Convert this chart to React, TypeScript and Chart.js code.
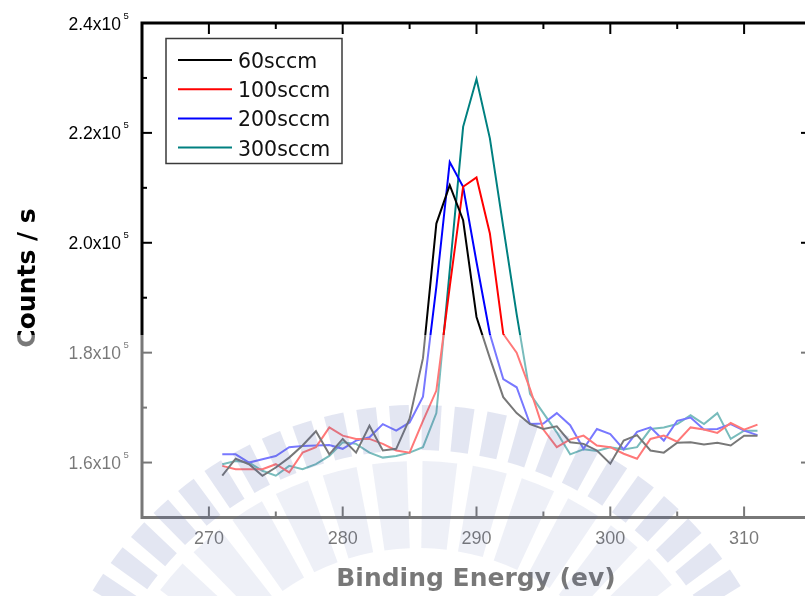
import React, { useEffect, useRef } from "react";
import { Chart, registerables } from "chart.js";

Chart.register(...registerables);

// Binding energy grid (eV)
const energies = [
  271, 272, 273, 274, 275, 276, 277, 278, 279, 280,
  281, 282, 283, 284, 285, 286, 287, 288, 289, 290,
  291, 292, 293, 294, 295, 296, 297, 298, 299, 300,
  301, 302, 303, 304, 305, 306, 307, 308, 309, 310, 311,
];

// Counts per second for each gas flow
const flow60 = [
  157600, 160700, 159700, 157600, 159100, 160900, 163100, 165700, 161500, 164300,
  161800, 166700, 162200, 162500, 168000, 179000, 203500, 210500, 204100, 186500,
  179000, 171900, 169000, 167000, 166100, 166600, 163700, 163400, 162200, 159800,
  164000, 165000, 162200, 161800, 163600, 163700, 163300, 163600, 163100, 164900, 164900,
];
const flow100 = [
  159400, 158800, 158800, 158800, 159700, 158200, 161800, 162800, 166400, 164900,
  164300, 164300, 163400, 162200, 161800, 167600, 173100, 192000, 210200, 211900,
  201700, 183400, 180000, 173400, 166000, 162800, 164200, 164900, 163100, 162800,
  161600, 160700, 164300, 164900, 163800, 166400, 166000, 165400, 167200, 166000, 166900,
];
const flow200 = [
  161500, 161500, 160000, 160600, 161200, 162800, 163000, 163100, 163200, 162500,
  164000, 164600, 167000, 165800, 167300, 172000, 192000, 214700, 210200, 196500,
  183400, 175200, 173700, 167000, 167100, 169000, 166800, 162500, 166100, 165200,
  162400, 165600, 166400, 164000, 167600, 168200, 166000, 166100, 167000, 165800, 165000,
];
const flow300 = [
  159700, 160300, 160000, 158500, 157600, 159400, 158800, 159700, 161200, 163700,
  163400, 161800, 160900, 161200, 161800, 162800, 169000, 195000, 221100, 229800,
  219000, 202900, 187000, 172500, 169000, 165500, 161500, 162400, 162100, 162800,
  162400, 162800, 166100, 166400, 167000, 168600, 167000, 169000, 164300, 165800, 165800,
];

const seriesLabels = ["60sccm", "100sccm", "200sccm", "300sccm"];
const seriesColors = ["#000000", "#ff0000", "#0000ff", "#008080"];

// Axis ranges and ticks
const xRange = [265, 315];
const yRange = [150000, 240000];
const xMajorTicks = [270, 280, 290, 300, 310];
const xMinorTicks = [275, 285, 295, 305];
const xTickLabels = ["270", "280", "290", "300", "310"];
const yMajorTicks = [160000, 180000, 200000, 220000, 240000];
const yMinorTicks = [170000, 190000, 210000, 230000];
const yTickMantissas = ["1.6", "1.8", "2.0", "2.2", "2.4"];
const yTickExponent = "5";

const xTitle = "Binding Energy (ev)";
const yTitle = "Counts / s";

const CANVAS_W = 830;
const CANVAS_H = 596;

// Origin-style boxed frame with inward ticks on all four sides
const framePlugin = {
  id: "frame",
  afterDatasetsDraw(chart: any) {
    const { ctx, chartArea: a, scales } = chart;
    const xs = scales.x;
    const ys = scales.y;
    ctx.save();
    ctx.strokeStyle = "#000";
    ctx.lineCap = "butt";

    const seg = (x1: number, y1: number, x2: number, y2: number) => {
      ctx.beginPath();
      ctx.moveTo(x1, y1);
      ctx.lineTo(x2, y2);
      ctx.stroke();
    };

    ctx.lineWidth = 2;
    xMajorTicks.forEach((v) => {
      const px = xs.getPixelForValue(v);
      seg(px, a.bottom, px, a.bottom - 11);
      seg(px, a.top, px, a.top + 11);
    });
    xMinorTicks.forEach((v) => {
      const px = xs.getPixelForValue(v);
      seg(px, a.bottom, px, a.bottom - 6);
      seg(px, a.top, px, a.top + 6);
    });
    yMajorTicks.forEach((v) => {
      const py = ys.getPixelForValue(v);
      seg(a.left, py, a.left + 10, py);
      seg(a.right, py, a.right - 10, py);
    });
    yMinorTicks.forEach((v) => {
      const py = ys.getPixelForValue(v);
      seg(a.left, py, a.left + 5, py);
      seg(a.right, py, a.right - 5, py);
    });

    ctx.lineWidth = 3;
    ctx.strokeRect(a.left, a.top, a.right - a.left, a.bottom - a.top);

    // tick labels
    ctx.fillStyle = "#000";
    ctx.font = '18px "Liberation Sans", Arial, sans-serif';
    ctx.textAlign = "center";
    ctx.textBaseline = "alphabetic";
    xMajorTicks.forEach((v, i) => {
      ctx.fillText(xTickLabels[i], xs.getPixelForValue(v), a.bottom + 26.5);
    });

    yMajorTicks.forEach((v, i) => {
      const py = ys.getPixelForValue(v);
      ctx.font = '17.5px "Liberation Sans", Arial, sans-serif';
      ctx.textAlign = "right";
      ctx.fillText(yTickMantissas[i] + "x10", a.left - 21, py + 6.5);
      ctx.font = '9.5px "Liberation Sans", Arial, sans-serif';
      ctx.textAlign = "left";
      ctx.fillText(yTickExponent, a.left - 18.5, py - 4.5);
    });

    // axis titles
    ctx.font = 'bold 25px "DejaVu Sans", Verdana, sans-serif';
    ctx.textAlign = "center";
    ctx.fillText(xTitle, (a.left + a.right) / 2 - 0.5, 586);

    ctx.save();
    ctx.translate(35, 278);
    ctx.rotate(-Math.PI / 2);
    ctx.font = 'bold 25px "DejaVu Sans", Verdana, sans-serif';
    ctx.textAlign = "center";
    ctx.fillText(yTitle, 0, 0);
    ctx.restore();

    ctx.restore();
  },
};

// Boxed legend in the upper-left corner of the plot
const legendPlugin = {
  id: "boxLegend",
  afterDatasetsDraw(chart: any) {
    const { ctx } = chart;
    const left = 166;
    const top = 38.5;
    const w = 176;
    const h = 125;
    ctx.save();
    ctx.fillStyle = "#fff";
    ctx.fillRect(left, top, w, h);
    ctx.strokeStyle = "#3a3a3a";
    ctx.lineWidth = 1.5;
    ctx.strokeRect(left, top, w, h);
    ctx.font = '20.5px "DejaVu Sans", Verdana, sans-serif';
    ctx.textAlign = "left";
    ctx.textBaseline = "alphabetic";
    chart.data.datasets.forEach((ds: any, i: number) => {
      const y = 60 + i * 29.2;
      ctx.strokeStyle = ds.borderColor;
      ctx.lineWidth = 2;
      ctx.beginPath();
      ctx.moveTo(178, y);
      ctx.lineTo(232, y);
      ctx.stroke();
      ctx.fillStyle = "#111";
      ctx.fillText(ds.label, 238, y + 8);
    });
    ctx.restore();
  },
};

// Faded emblem printed over the lower half of the page
const emblemPlugin = {
  id: "emblem",
  afterDraw(chart: any) {
    const { ctx, width, height } = chart;
    ctx.save();
    ctx.fillStyle = "rgba(255,255,255,0.47)";
    ctx.fillRect(0, 335, width, height - 335);

    ctx.beginPath();
    ctx.rect(0, 335, width, height - 335);
    ctx.clip();

    const cx = 418;
    const cy = 783;
    const deg = Math.PI / 180;
    // outer ring of blocks
    ctx.fillStyle = "rgba(70,90,170,0.15)";
    for (let a = -180; a < 0; a += 5) {
      ctx.beginPath();
      ctx.arc(cx, cy, 378, (a + 0.6) * deg, (a + 3.6) * deg);
      ctx.arc(cx, cy, 333, (a + 3.6) * deg, (a + 0.6) * deg, true);
      ctx.closePath();
      ctx.fill();
    }
    // inner band
    ctx.fillStyle = "rgba(70,90,170,0.09)";
    for (let a = -180; a < 0; a += 9) {
      ctx.beginPath();
      ctx.arc(cx, cy, 322, (a + 0.8) * deg, (a + 7.0) * deg);
      ctx.arc(cx, cy, 235, (a + 7.0) * deg, (a + 0.8) * deg, true);
      ctx.closePath();
      ctx.fill();
    }
    ctx.restore();
  },
};

export default function App() {
  const canvasRef = useRef<HTMLCanvasElement | null>(null);

  useEffect(() => {
    document.documentElement.style.overflow = "hidden";
    document.body.style.overflow = "hidden";
    const canvas = canvasRef.current;
    if (!canvas) return;
    const series = [flow60, flow100, flow200, flow300];
    const chart = new Chart(canvas, {
      type: "line",
      data: {
        datasets: series.map((vals, i) => ({
          label: seriesLabels[i],
          data: energies.map((e, j) => ({ x: e, y: vals[j] })),
          borderColor: seriesColors[i],
          backgroundColor: seriesColors[i],
          borderWidth: 2,
          pointRadius: 0,
          tension: 0,
          fill: false,
        })),
      },
      options: {
        animation: false,
        responsive: false,
        maintainAspectRatio: false,
        devicePixelRatio: 1,
        events: [],
        layout: {
          padding: { left: 142, top: 23, right: CANVAS_W - 811, bottom: CANVAS_H - 517.5 },
        },
        scales: {
          x: { type: "linear", min: xRange[0], max: xRange[1], display: false },
          y: { type: "linear", min: yRange[0], max: yRange[1], display: false },
        },
        plugins: {
          legend: { display: false },
          tooltip: { enabled: false },
        },
      },
      plugins: [framePlugin, legendPlugin, emblemPlugin],
    } as any);
    return () => chart.destroy();
  }, []);

  return (
    <div
      style={{
        position: "fixed",
        left: 0,
        top: 0,
        width: 805,
        height: 596,
        overflow: "hidden",
        background: "#fff",
      }}
    >
      <canvas ref={canvasRef} width={CANVAS_W} height={CANVAS_H} style={{ display: "block" }} />
    </div>
  );
}
